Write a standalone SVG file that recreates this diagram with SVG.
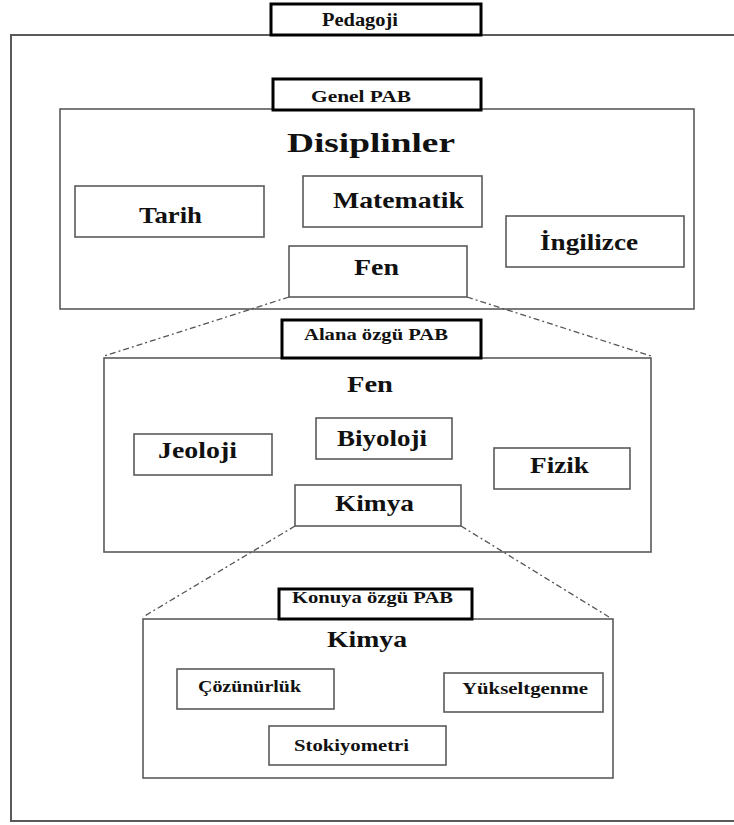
<svg xmlns="http://www.w3.org/2000/svg" width="734" height="825" viewBox="0 0 734 825">
<style>
.frame{fill:none;stroke:#5a5a5a;stroke-width:2}
.box{fill:#fff;stroke:#5a5a5a;stroke-width:1.6}
.label{fill:#fff;stroke:#000;stroke-width:3}
.conn{fill:none;stroke:#555;stroke-width:1.3;stroke-dasharray:6 3 2 3}
text{font-family:"Liberation Serif","Times New Roman",serif;font-weight:bold;fill:#111}
.big{font-size:28px}
.mid{font-size:22.5px}
.sm{font-size:17px}
.hd{font-size:18px}
</style>
<rect width="734" height="825" fill="#fff"/>
<g id="pedagoji">
<path class="frame" d="M734 35 H11 V821 H734"/>
<rect class="label" x="271" y="4" width="210" height="31"/>
<text class="hd" x="322" y="26" textLength="76" lengthAdjust="spacingAndGlyphs">Pedagoji</text>
</g>
<g id="genel">
<rect class="box" x="60" y="109" width="634" height="200"/>
<rect class="label" x="273" y="79" width="208" height="31"/>
<text class="sm" x="311" y="102" textLength="100" lengthAdjust="spacingAndGlyphs">Genel PAB</text>
<text class="big" x="287" y="152" textLength="168" lengthAdjust="spacingAndGlyphs">Disiplinler</text>
</g>
<g id="tarih">
<rect class="box" x="75" y="186" width="189" height="51"/>
<text class="mid" x="139" y="223" textLength="63" lengthAdjust="spacingAndGlyphs">Tarih</text>
</g>
<g id="matematik">
<rect class="box" x="303" y="176" width="179" height="51"/>
<text class="mid" x="333" y="208" textLength="131" lengthAdjust="spacingAndGlyphs">Matematik</text>
</g>
<g id="ingilizce">
<rect class="box" x="506" y="216" width="178" height="51"/>
<text class="mid" x="540" y="250" textLength="98" lengthAdjust="spacingAndGlyphs">İngilizce</text>
</g>
<g id="fen1">
<rect class="box" x="289" y="246" width="178" height="51"/>
<text class="mid" x="354" y="275" textLength="45" lengthAdjust="spacingAndGlyphs">Fen</text>
</g>
<g id="alana">
<rect class="box" x="104" y="358" width="547" height="194"/>
<rect class="label" x="282" y="320" width="199" height="38"/>
<text class="sm" x="304" y="340" textLength="144" lengthAdjust="spacingAndGlyphs">Alana özgü PAB</text>
<text class="mid" x="347" y="392" textLength="46" lengthAdjust="spacingAndGlyphs">Fen</text>
</g>
<g id="jeoloji">
<rect class="box" x="134" y="434" width="138" height="41"/>
<text class="mid" x="158" y="458" textLength="79" lengthAdjust="spacingAndGlyphs">Jeoloji</text>
</g>
<g id="biyoloji">
<rect class="box" x="316" y="418" width="136" height="41"/>
<text class="mid" x="337" y="446" textLength="90" lengthAdjust="spacingAndGlyphs">Biyoloji</text>
</g>
<g id="fizik">
<rect class="box" x="494" y="448" width="136" height="41"/>
<text class="mid" x="530" y="473" textLength="59" lengthAdjust="spacingAndGlyphs">Fizik</text>
</g>
<g id="kimya1">
<rect class="box" x="295" y="485" width="166" height="41"/>
<text class="mid" x="335" y="511" textLength="79" lengthAdjust="spacingAndGlyphs">Kimya</text>
</g>
<g id="konu">
<rect class="box" x="143" y="619" width="470" height="159"/>
<rect class="label" x="279" y="589" width="193" height="30"/>
<text class="sm" x="292" y="603" textLength="161" lengthAdjust="spacingAndGlyphs">Konuya özgü PAB</text>
<text class="mid" x="327" y="647" textLength="80" lengthAdjust="spacingAndGlyphs">Kimya</text>
</g>
<g id="cozunurluk">
<rect class="box" x="177" y="669" width="157" height="40"/>
<text class="sm" x="198" y="692" textLength="103" lengthAdjust="spacingAndGlyphs">Çözünürlük</text>
</g>
<g id="yukseltgenme">
<rect class="box" x="444" y="673" width="159" height="39"/>
<text class="sm" x="462" y="694" textLength="126" lengthAdjust="spacingAndGlyphs">Yükseltgenme</text>
</g>
<g id="stokiyometri">
<rect class="box" x="269" y="726" width="177" height="39"/>
<text class="sm" x="294" y="751" textLength="115" lengthAdjust="spacingAndGlyphs">Stokiyometri</text>
</g>
<g id="connectors">
<line class="conn" x1="289" y1="297" x2="104" y2="356"/>
<line class="conn" x1="467" y1="297" x2="651" y2="356"/>
<line class="conn" x1="295" y1="526" x2="143" y2="617"/>
<line class="conn" x1="461" y1="526" x2="609" y2="617"/>
</g>
</svg>
